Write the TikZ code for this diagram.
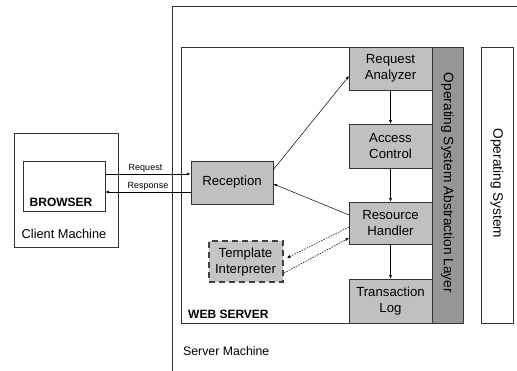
\documentclass[tikz,border=0pt]{standalone}
\usepackage{fontspec}
\setmainfont{Liberation Sans}
\usetikzlibrary{arrows.meta}
\definecolor{boxgray}{HTML}{C0C0C0}
\definecolor{osalgray}{HTML}{969696}
\definecolor{tplgray}{HTML}{C4C4C4}
\definecolor{tplborder}{HTML}{404040}
\tikzset{
  comp/.style={draw=black!80, line width=0.8pt, fill=boxgray, inner sep=0pt, align=center,
    font=\fontsize{13.2}{16}\selectfont},
  frame/.style={draw=black!80, line width=0.8pt, inner sep=0pt},
  arr/.style={line width=0.5pt, -{Latex[length=3.5pt,width=3pt]}},
  darr/.style={line width=0.6pt, dash pattern=on 1.5pt off 1.2pt, -{Latex[length=3.5pt,width=3pt]}},
  lbl/.style={font=\fontsize{9}{10}\selectfont, inner sep=0pt},
  vtext/.style={rotate=-90, font=\fontsize{13.7}{16}\selectfont, inner sep=0pt}
}
\begin{document}
\begin{tikzpicture}[x=1pt,y=-1pt]
\useasboundingbox (0,0) rectangle (517,371);
% server machine frame (extends beyond picture)
\coordinate (smb) at (172.5,371);
\coordinate (smtl) at (172.5,6);
\coordinate (smr) at (517,6);
\draw[black!80, line width=0.8pt] (smb) -- (smtl) -- (smr);
\node[anchor=base west, font=\fontsize{12.3}{14}\selectfont, inner sep=0pt] (smlabel) at (183,356) {Server Machine};
% web server frame
\node[frame, minimum width=281.5pt, minimum height=276pt] (web) at (322.25,185) {};
\node[anchor=base west, font=\bfseries\fontsize{12}{14}\selectfont, inner sep=0pt] (weblabel) at (188,319) {WEB SERVER};
% OS abstraction layer
\node[frame, fill=osalgray, minimum width=31pt, minimum height=276pt] (osal) at (447.5,185) {};
\node[vtext] (osaltext) at ([yshift=2pt]osal.center) {Operating System Abstraction Layer};
% operating system
\node[frame, minimum width=32pt, minimum height=276pt] (os) at (497,185) {};
\node[vtext] (ostext) at ([yshift=1.5pt]os.center) {Operating System};
% components
\node[comp, minimum width=83pt, minimum height=43pt] (reqan) at (390.5,68.5) {Request\\Analyzer};
\node[comp, minimum width=83pt, minimum height=44pt] (access) at (390.5,146) {Access\\Control};
\node[comp, minimum width=83pt, minimum height=42pt] (resh) at (390.5,223) {Resource\\Handler};
\node[comp, minimum width=83pt, minimum height=44pt] (trans) at (390.5,301) {Transaction\\Log};
\node[comp, minimum width=82pt, minimum height=43pt] (recep) at (232,182.5) {Reception};
\node[comp, draw=tplborder, line width=2pt, dash pattern=on 6pt off 4pt, fill=tplgray,
      minimum width=74pt, minimum height=41pt] (tpl) at (245.5,262) {Template\\Interpreter};
% client machine
\node[frame, minimum width=104pt, minimum height=114pt] (client) at (66,190) {};
\node[frame, fill=white, minimum width=82pt, minimum height=50pt] (browser) at (64,186) {};
\node[anchor=base west, font=\bfseries\fontsize{12}{14}\selectfont, inner sep=0pt] (browsertext) at (29.5,207) {BROWSER};
\node[anchor=base, font=\fontsize{12.8}{14}\selectfont, inner sep=0pt] (clienttext) at (64,238.5) {Client Machine};
% request / response
\coordinate (reqy) at (0,174);
\coordinate (resy) at (0,192);
\draw[arr] (browser.east |- reqy) -- (recep.west |- reqy);
\draw[arr] (recep.west |- resy) -- (browser.east |- resy);
\node[lbl, anchor=base] (reqlbl) at (145.5,171) {Request};
\node[lbl, anchor=base] (reslbl) at (148,189) {Response};
% internal connectors
\coordinate (r1) at (273,170);
\coordinate (r2) at (349,76);
\draw[arr] (r1) -- (r2);
\draw[arr] (reqan.south) -- (access.north);
\draw[arr] (access.south) -- (resh.north);
\draw[arr] (resh.south) -- (trans.north);
\coordinate (h1) at (349,215);
\coordinate (h2) at (273.5,184);
\draw[arr] (h1) -- (h2);
\coordinate (d1) at (349,227);
\coordinate (d2) at (287,258);
\draw[darr] (d1) -- (d2);
\coordinate (d3) at (284,273);
\coordinate (d4) at (349,238);
\draw[darr] (d3) -- (d4);
\end{tikzpicture}
\end{document}
